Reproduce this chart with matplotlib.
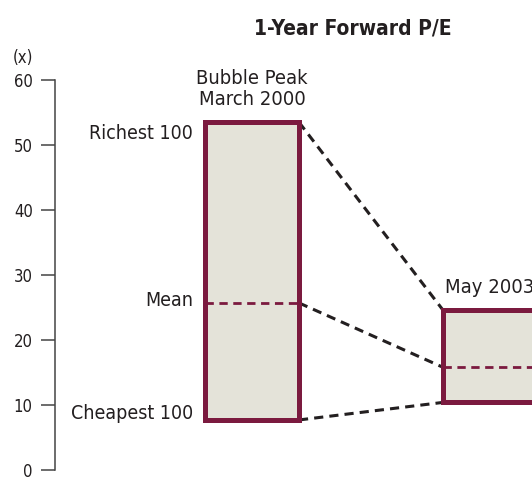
import numpy as np
import matplotlib
matplotlib.use("Agg")
import matplotlib.pyplot as plt

plt.rcParams['font.family'] = ['DejaVu Sans']
plt.rcParams['font.stretch'] = 'condensed'

# data (1-year forward P/E, x)
periods = ["Bubble Peak\nMarch 2000", "May 2003"]
richest = [53.5, 24.6]
mean_pe = [25.7, 15.8]
cheapest = [7.7, 10.4]
yticks = [0, 10, 20, 30, 40, 50, 60]

maroon = '#7b1a3f'
fill = '#e4e3d9'
ink = '#231f20'

fig = plt.figure(figsize=(5.32, 4.79), dpi=100)
ax = fig.add_axes([55 / 532, 9 / 479, 477 / 532, 390 / 479])

x = np.array([1.0, 2.0])
width = 0.395
lefts = x - width / 2
rights = x + width / 2

# dashed connectors between the two boxes
for vals in (richest, mean_pe, cheapest):
    ax.plot([rights[0], lefts[1]], [vals[0], vals[1]], color=ink,
            linestyle=(0, (3, 2)), linewidth=2.2, zorder=1)

heights = np.array(richest) - np.array(cheapest)
ax.bar(x, heights, bottom=cheapest, width=width, color=fill,
       edgecolor=maroon, linewidth=3.6, zorder=2)

for i in range(len(x)):
    ax.plot([lefts[i], rights[i]], [mean_pe[i], mean_pe[i]], color=maroon,
            linestyle=(0, (3, 2)), linewidth=2.0, zorder=3)
    ax.text(x[i], richest[i] + 2.0, periods[i], ha='center', va='bottom',
            fontsize=14.5, color=ink, multialignment='center',
            linespacing=1.15)

# labels on the left of first box
lx = lefts[0] - 0.05
ax.text(lx, richest[0] - 0.3, "Richest 100", ha='right', va='top',
        fontsize=14, color=ink)
ax.text(lx, mean_pe[0] + 0.3, "Mean", ha='right', va='center',
        fontsize=14, color=ink)
ax.text(lx, cheapest[0] + 0.2, "Cheapest 100", ha='right', va='baseline',
        fontsize=14, color=ink)

ax.set_xlim(1 - (252 - 55) / 238, 2 + (532 - 490) / 238)
ax.set_ylim(0, 60)
ax.set_yticks(yticks)
ax.set_xticks([])

for s in ['top', 'right', 'bottom']:
    ax.spines[s].set_visible(False)
ax.spines['left'].set_color('#444444')
ax.spines['left'].set_linewidth(1.1)
ax.tick_params(axis='y', length=10, width=1.1, color='#444444',
               pad=6, labelsize=12, labelcolor=ink)

fig.text(23 / 532, 1 - 63 / 479, "(x)", ha='center', va='baseline',
         fontsize=12, color=ink)
fig.text(353 / 532, 1 - 35 / 479, "1-Year Forward P/E", ha='center',
         va='baseline', fontsize=15, fontweight='bold', color=ink)

fig.savefig("out.png", dpi=100)
